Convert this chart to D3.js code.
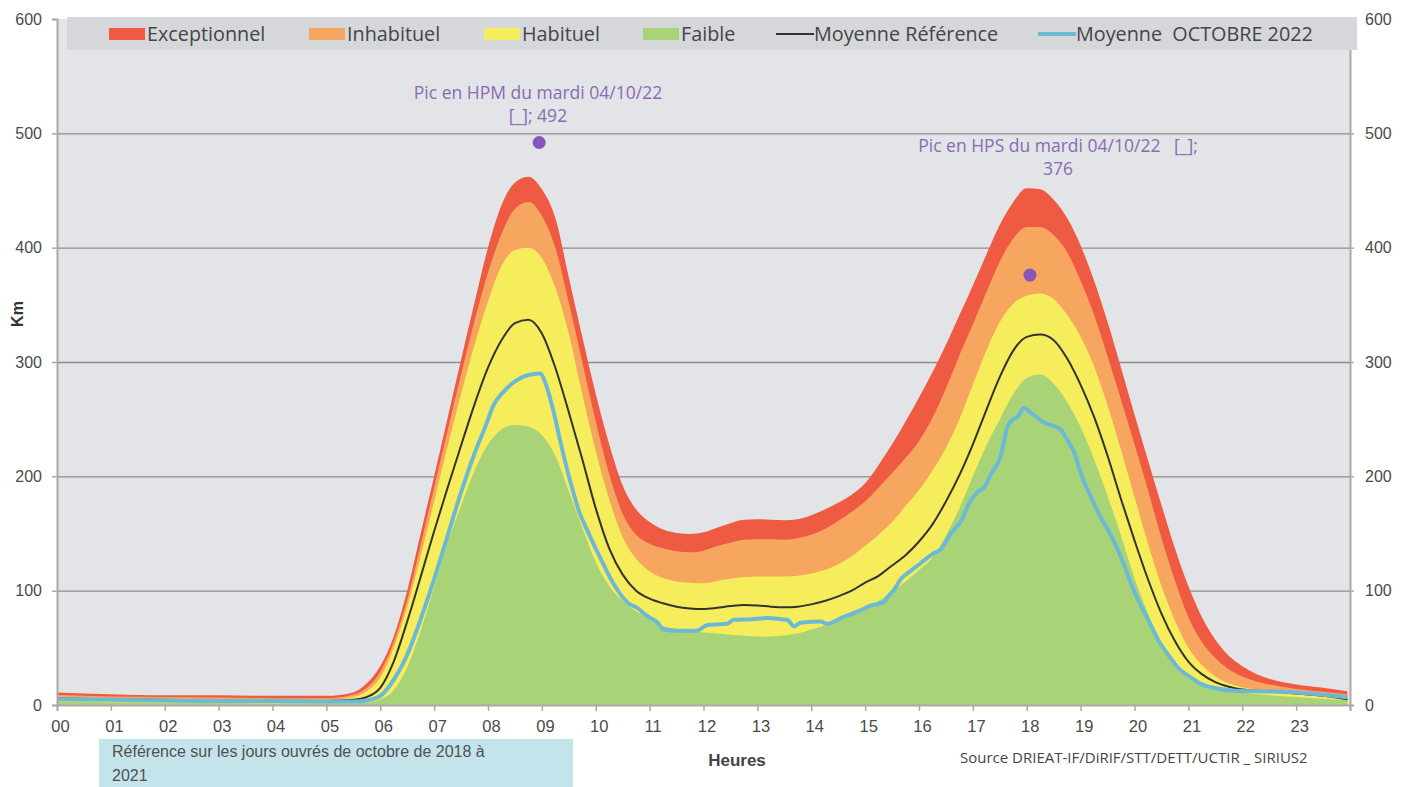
<!DOCTYPE html>
<html>
<head>
<meta charset="utf-8">
<script src="https://cdn.jsdelivr.net/npm/d3@7"></script>
<style>
  body { margin: 0; background: #fff; }
  svg { display: block; }
</style>
</head>
<body>
<svg id="chart" width="1411" height="787"></svg>
<script>
// heures communes aux bandes de référence
const hours = [0,1,2,3,4,5,5.5,5.75,6,6.25,6.5,6.75,7,7.25,7.5,7.75,8,8.25,8.5,8.75,9,9.25,9.5,9.75,10,10.25,10.5,10.75,11,11.25,11.5,11.75,12,12.25,12.5,12.75,13,13.25,13.5,13.75,14,14.25,14.5,14.75,15,15.25,15.5,15.75,16,16.25,16.5,16.75,17,17.25,17.5,17.75,18,18.25,18.5,18.75,19,19.25,19.5,19.75,20,20.25,20.5,20.75,21,21.25,21.5,21.75,22,22.5,23,23.5,23.95]

const exceptionnel = [11,9.5,8.5,8.5,8,8,
  11,19,34,60,100,150,200,251,302,352,400,437,457,462,451,426,374,322,272,228,192,171,160,153.5,150.5,149.5,
  151,155,159,162,162.5,162,161.5,162.5,166,171,177,184,194,210,228,248,269,291,315,341,367,394,420,440,452,451,442,426,402,371,335,295,254,214,175,137,104,77,57,43,34,
  23,18,15,12]

const inhabituel = [9,7.5,7,6.5,6,6,
  9,15,29,55,92,140,190,240,289,336,378,412,434,440,428,400,352,300,248,202,167,149,141,137,134.5,133.5,
  135,139,142,144.5,145,145,144.5,146,149,154,161,169,178,190,203,216,231,251,277,306,333,361,388,408,418,418,411,396,371,341,305,267,228,188,146,109,77,55,41,31,25,
  18,14,11.5,9.5]

const habituel = [7.5,6,5.5,5,4.5,4.5,
  7,12,24,50,86,130,178,226,272,315,353,384,398,400,391,365,325,272,222,180,147,128,117,111,108,107,
  106.5,108.5,110.5,112,112.5,112.5,112.5,113,115,118,123,130,139,149,160,174,188,205,225,250,280,310,335,351,358,360,355,341,322,296,262,223,182,141,104,74,50,35,25,19,15.5,
  13,11.5,9.5,7.5]

const faible = [3,2.5,2,2,1.5,1.5,
  1.5,2,5,13,33,65,103,142,174,205,228,241,245,243.5,236,218,187,155,125,104,91,82,75,69,66.5,64.5,
  63.5,62.5,61.5,60.5,60,60,61,62.5,66,70,75,80,85,91,99,108,118,129,148,172,200,227,250,272,286,289,281,265,243,215,183,148,111,80,53,35,24,18,14.5,12.5,11,
  8.5,7,5.5,4.4]

const moyenneReference = [6,5,4.5,4,3.5,3.5,
  4.5,7,15,38,73,112,152,190,227,263,295,319,334,337,325,295,256,215,172,137,114,100,93,89,86,84.5,
  84,85,86.5,87.5,87,86,85.5,86,88,91,95,100,107,113,122,131,143,158,178,201,228,258,287,310,322,324,319,303,280,252,218,180,144,110,80,56,38,27,20,16,13.5,
  12,10,8,5]

// moyenne octobre 2022 (relevés plus fins)
const octobreHours = [0,1,2,3,4,5,5.5,5.75,6,6.25,6.5,6.75,7,7.25,7.5,7.75,7.98,8.1,8.23,8.35,8.5,8.65,8.8,8.97,9.07,9.22,9.34,9.53,9.7,9.84,10.09,10.33,10.58,10.8,10.89,11.02,11.15,11.26,11.5,11.88,12.07,12.44,12.56,12.9,13.18,13.45,13.56,13.68,13.8,14.17,14.3,14.55,14.92,15.1,15.35,15.41,15.54,15.66,15.78,16.03,16.28,16.4,16.59,16.77,16.95,17.08,17.2,17.35,17.52,17.64,17.75,17.83,17.95,18.01,18.15,18.32,18.5,18.63,18.75,18.88,19,19.19,19.35,19.5,19.69,19.85,19.99,20.15,20.3,20.45,20.61,20.8,21.05,21.25,21.42,21.85,22.3,22.78,23.4,23.95]
const octobre2022 = [5,4.5,4,3.5,3.5,3,3,4,8,22,44,75,110,148,186,220,247,262,271,277,283,287,289,290,281,256,231,195,168,153,128,106,90,84,80,76,72,66,65,65,70,71,74.5,75,76,75,74.5,68.6,72,73,71,76,83,87,90,94,101,110,115,124,133,136,150,160,178,186,190,203,218,243,250,252,260,258,253,247,244,241,232,221,203,182,166,154,136,117,100,84,70,56,45,33,24,18,15.5,12.5,12,11.5,9.3,6.7]

const peakHours = [8.95, 18.06]
const peakValues = [492, 376]
const peakLabels = [['Pic en HPM du mardi 04/10/22', '[_]; 492'], ['Pic en HPS du mardi 04/10/22   [_];', '376']]

const hourLabels = ['00','01','02','03','04','05','06','07','08','09','10','11','12','13','14','15','16','17','18','19','20','21','22','23']
const kmTicks = [0, 100, 200, 300, 400, 500, 600]

const legendNames = ['Exceptionnel', 'Inhabituel', 'Habituel', 'Faible', 'Moyenne Référence', 'Moyenne  OCTOBRE 2022']
const colors = ['#ef5a43', '#f6a65e', '#f6ed5d', '#a9d377', '#333333', '#6cb9d6']

const svg = d3.select('#chart')
const x = d3.scaleLinear().domain([0, 24]).range([57, 1350])
const y = d3.scaleLinear().domain([0, 600]).range([705, 19])
const plotW = x(24) - x(0)

// fond du graphique
svg.append('rect')
    .attr('x', x(0)).attr('y', y(600))
    .attr('width', plotW).attr('height', y(0) - y(600))
    .attr('fill', '#e2e4e7')

// quadrillage
svg.append('g')
    .attr('transform', `translate(${x(0)},0)`)
    .call(d3.axisLeft(y).tickValues(kmTicks.slice(1, 6)).tickSize(-plotW).tickFormat(''))
    .call(g => g.select('.domain').remove())
    .call(g => g.selectAll('line').attr('stroke', '#8d8d8d').attr('stroke-width', 1.3))

// bandes empilées (chacune depuis 0, la suivante par-dessus)
const bandSeries = [exceptionnel, inhabituel, habituel, faible]
const area = d3.area()
    .x((d, i) => x(hours[i]))
    .y0(y(0))
    .y1(d => y(d))
    .curve(d3.curveMonotoneX)

svg.selectAll('path.band')
    .data(bandSeries)
    .enter()
    .append('path')
    .attr('class', 'band')
    .attr('d', d => area(d))
    .attr('fill', (d, i) => colors[i])

// moyenne de référence
const refLine = d3.line()
    .x((d, i) => x(hours[i]))
    .y(d => y(d))
    .curve(d3.curveMonotoneX)
svg.append('path')
    .attr('d', refLine(moyenneReference))
    .attr('fill', 'none')
    .attr('stroke', colors[4])
    .attr('stroke-width', 2)

// moyenne octobre 2022
const octLine = d3.line()
    .x((d, i) => x(octobreHours[i]))
    .y(d => y(d))
    .curve(d3.curveMonotoneX)
svg.append('path')
    .attr('d', octLine(octobre2022))
    .attr('fill', 'none')
    .attr('stroke', colors[5])
    .attr('stroke-width', 4)
    .attr('stroke-linejoin', 'round')

// axes
const axisColor = '#a9a9a9'
const leftAxis = svg.append('g')
    .attr('transform', `translate(${x(0)},0)`)
    .call(d3.axisLeft(y).tickValues(kmTicks).tickSize(5).tickPadding(10))
const rightAxis = svg.append('g')
    .attr('transform', `translate(${x(24)},0)`)
    .call(d3.axisRight(y).tickValues(kmTicks).tickSize(4).tickPadding(11))
const bottomAxis = svg.append('g')
    .attr('transform', `translate(0,${y(0)})`)
    .call(d3.axisBottom(x).tickValues(d3.range(0, 25)).tickSize(6).tickPadding(9)
        .tickFormat(d => hourLabels[d] || ''))

;[leftAxis, rightAxis, bottomAxis].forEach(g => {
    g.select('.domain').attr('stroke', axisColor).attr('stroke-width', 2)
    g.selectAll('.tick line').attr('stroke', axisColor).attr('stroke-width', 1.5)
    g.selectAll('.tick text')
        .attr('fill', '#4a4a4a')
        .style('font-family', '"Liberation Sans", Arial, sans-serif')
        .style('font-size', '16px')
})
bottomAxis.selectAll('.tick text').attr('dx', 3).style('font-size', '16.5px')

// pics
svg.selectAll('circle.peak')
    .data(peakValues)
    .enter()
    .append('circle')
    .attr('class', 'peak')
    .attr('cx', (d, i) => x(peakHours[i]))
    .attr('cy', d => y(d))
    .attr('r', 6.5)
    .attr('fill', '#8656b8')

const labelPos = [{cx: 538, y1: 99, y2: 122}, {cx: 1058, y1: 152, y2: 175}]
peakLabels.forEach((lines, i) => {
    lines.forEach((line, j) => {
        svg.append('text')
            .attr('x', labelPos[i].cx)
            .attr('y', j === 0 ? labelPos[i].y1 : labelPos[i].y2)
            .attr('text-anchor', 'middle')
            .attr('fill', '#8a6bb3')
            .style('font-family', '"Open Sans", sans-serif')
            .style('font-size', '17.5px')
            .style('white-space', 'pre')
            .text(line)
    })
})

// légende
svg.append('rect')
    .attr('x', 67).attr('y', 17)
    .attr('width', 1290).attr('height', 33)
    .attr('fill', '#d5d7da')
const legendX = [109, 309, 484, 643, 776, 1038]
const legend = svg.selectAll('g.leg')
    .data(legendNames)
    .enter()
    .append('g')
    .attr('class', 'leg')
    .attr('transform', (d, i) => `translate(${legendX[i]},34)`)
legend.each(function (d, i) {
    const g = d3.select(this)
    if (i < 4) {
        g.append('rect').attr('x', 0).attr('y', -6).attr('width', 36).attr('height', 12).attr('fill', colors[i])
    } else {
        g.append('line').attr('x1', 0).attr('x2', 38).attr('y1', 0).attr('y2', 0)
            .attr('stroke', colors[i]).attr('stroke-width', i === 4 ? 2 : 4)
    }
    g.append('text')
        .attr('x', 38).attr('y', 7)
        .attr('fill', '#454545')
        .style('font-family', '"Open Sans", sans-serif')
        .style('font-size', '19.8px')
        .style('white-space', 'pre')
        .text(d)
})

// titres des axes
svg.append('text')
    .attr('transform', 'translate(23,314) rotate(-90)')
    .attr('text-anchor', 'middle')
    .attr('fill', '#333')
    .style('font-family', '"Liberation Sans", Arial, sans-serif')
    .style('font-weight', 'bold')
    .style('font-size', '16px')
    .text('Km')
svg.append('text')
    .attr('x', 737).attr('y', 766)
    .attr('text-anchor', 'middle')
    .attr('fill', '#444')
    .style('font-family', '"Liberation Sans", Arial, sans-serif')
    .style('font-weight', 'bold')
    .style('font-size', '17px')
    .text('Heures')

// note et source
svg.append('rect')
    .attr('x', 99).attr('y', 739)
    .attr('width', 474).attr('height', 48)
    .attr('fill', '#c4e4eb')
const note = svg.append('text')
    .attr('fill', '#505050')
    .style('font-family', '"Liberation Sans", Arial, sans-serif')
    .style('font-size', '16px')
note.append('tspan').attr('x', 112).attr('y', 757).text('Référence sur les jours ouvrés de octobre de 2018 à')
note.append('tspan').attr('x', 112).attr('y', 781).text('2021')

svg.append('text')
    .attr('x', 960).attr('y', 763)
    .attr('fill', '#454545')
    .style('font-family', '"Open Sans", sans-serif')
    .style('font-size', '15px')
    .text('Source DRIEAT-IF/DiRIF/STT/DETT/UCTIR _ SIRIUS2')
</script>
</body>
</html>
